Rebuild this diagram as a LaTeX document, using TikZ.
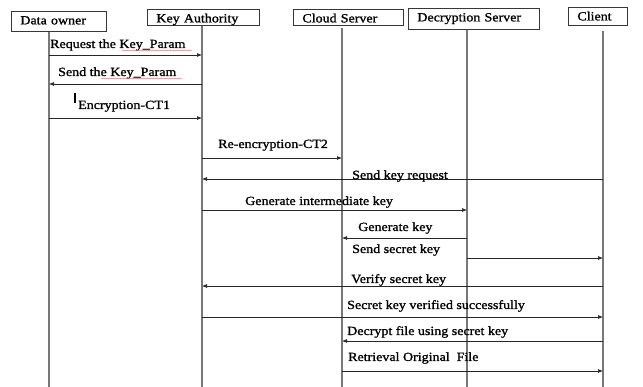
\documentclass[tikz,border=0pt]{standalone}
\usepackage{fontspec}
\setmainfont{Liberation Serif}[FakeStretch=1.12,FakeBold=1.2]
\usetikzlibrary{arrows.meta,positioning,decorations.pathmorphing}
\definecolor{lifegray}{RGB}{120,120,120}
\definecolor{boxgray}{RGB}{55,55,55}

\begin{document}
\begin{tikzpicture}[x=1pt,y=-1pt,>={Latex[length=5pt,width=4pt]}, every node/.style={font=\fontsize{12.5}{14}\selectfont}]
    \tikzset{actor/.style={draw=boxgray,line width=0.8pt,anchor=north west,inner xsep=9pt,inner ysep=3pt,text height=10pt,align=left}}
    \tikzset{lifeline/.style={draw=lifegray,line width=1.1pt}}
    \tikzset{msg/.style={draw=black!85,line width=0.7pt,->}}
    \tikzset{mlabel/.style={anchor=base west,inner sep=0pt}}
    \tikzset{squiggle/.style={draw=red!60,line width=0.4pt,decorate,decoration={snake,amplitude=0.5pt,segment length=2pt}}}

    \useasboundingbox (0,0) rectangle (643,387);

    % Participants
    \node[actor,text width=77pt,text depth=4pt] (owner) at (11,11) {Data owner};
    \node[actor,text width=94pt,text depth=0pt] (authority) at (147,9) {Key Authority};
    \node[actor,text width=92pt,text depth=0pt] (cloud) at (293,9) {Cloud Server};
    \node[actor,text width=113pt,text depth=5pt] (decrypt) at (408,8) {Decryption Server};
    \node[actor,text width=41pt,text depth=2pt] (client) at (568,7) {Client};

    % Lifelines
    \coordinate (ownerL) at (49,387);
    \coordinate (authorityL) at (202,387);
    \coordinate (cloudL) at (342,387);
    \coordinate (decryptL) at (467,387);
    \coordinate (clientL) at (603,387);
    \draw[lifeline] (owner.south -| ownerL) -- (ownerL);
    \draw[lifeline] (authority.south -| authorityL) -- (authorityL);
    \draw[lifeline] ([yshift=-2pt]cloud.south -| cloudL) -- (cloudL);
    \draw[lifeline] (decrypt.south -| decryptL) -- (decryptL);
    \draw[lifeline] ([yshift=-5pt]client.south -| clientL) -- (clientL);

    % Messages
    \draw[msg] (ownerL |- 0,55) -- (authorityL |- 0,55);
    \node[mlabel] (l1) at (50,48) {Request the Key\_Param};
    \draw[squiggle] (122,50.5) -- (192,50.5);

    \draw[msg] (authorityL |- 0,84) -- (ownerL |- 0,84);
    \node[mlabel] (l2) at (58,76) {Send the Key\_Param};
    \draw[squiggle] (101,78.5) -- (182,78.5);

    \draw[line width=2pt] (75,93) -- (75,103);
    \draw[msg] (ownerL |- 0,118) -- (authorityL |- 0,118);
    \node[mlabel] (l3) at (78,109) {Encryption-CT1};

    \draw[msg] (authorityL |- 0,158) -- (cloudL |- 0,158);
    \node[mlabel] (l4) at (218,148) {Re-encryption-CT2};

    \draw[msg] (clientL |- 0,179) -- (authorityL |- 0,179);
    \node[mlabel] (l5) at (352,179) {Send key request};

    \draw[msg] (authorityL |- 0,210) -- (decryptL |- 0,210);
    \node[mlabel] (l6) at (245,205) {Generate intermediate key};

    \draw[msg] (decryptL |- 0,238) -- (cloudL |- 0,238);
    \node[mlabel] (l7) at (358,231) {Generate key};

    \draw[msg] (decryptL |- 0,258) -- (clientL |- 0,258);
    \node[mlabel] (l8) at (352,253) {Send secret key};

    \draw[msg] (clientL |- 0,286) -- (authorityL |- 0,286);
    \node[mlabel] (l9) at (351,283) {Verify secret key};

    \draw[msg] (authorityL |- 0,317) -- (clientL |- 0,317);
    \node[mlabel] (l10) at (347,309) {Secret key verified successfully};

    \draw[msg] (clientL |- 0,341) -- (cloudL |- 0,341);
    \node[mlabel] (l11) at (347,335) {Decrypt file using secret key};

    \draw[msg] (cloudL |- 0,371) -- (clientL |- 0,371);
    \node[mlabel] (l12) at (348,361) {Retrieval Original\ \ File};
  \end{tikzpicture}
\end{document}
